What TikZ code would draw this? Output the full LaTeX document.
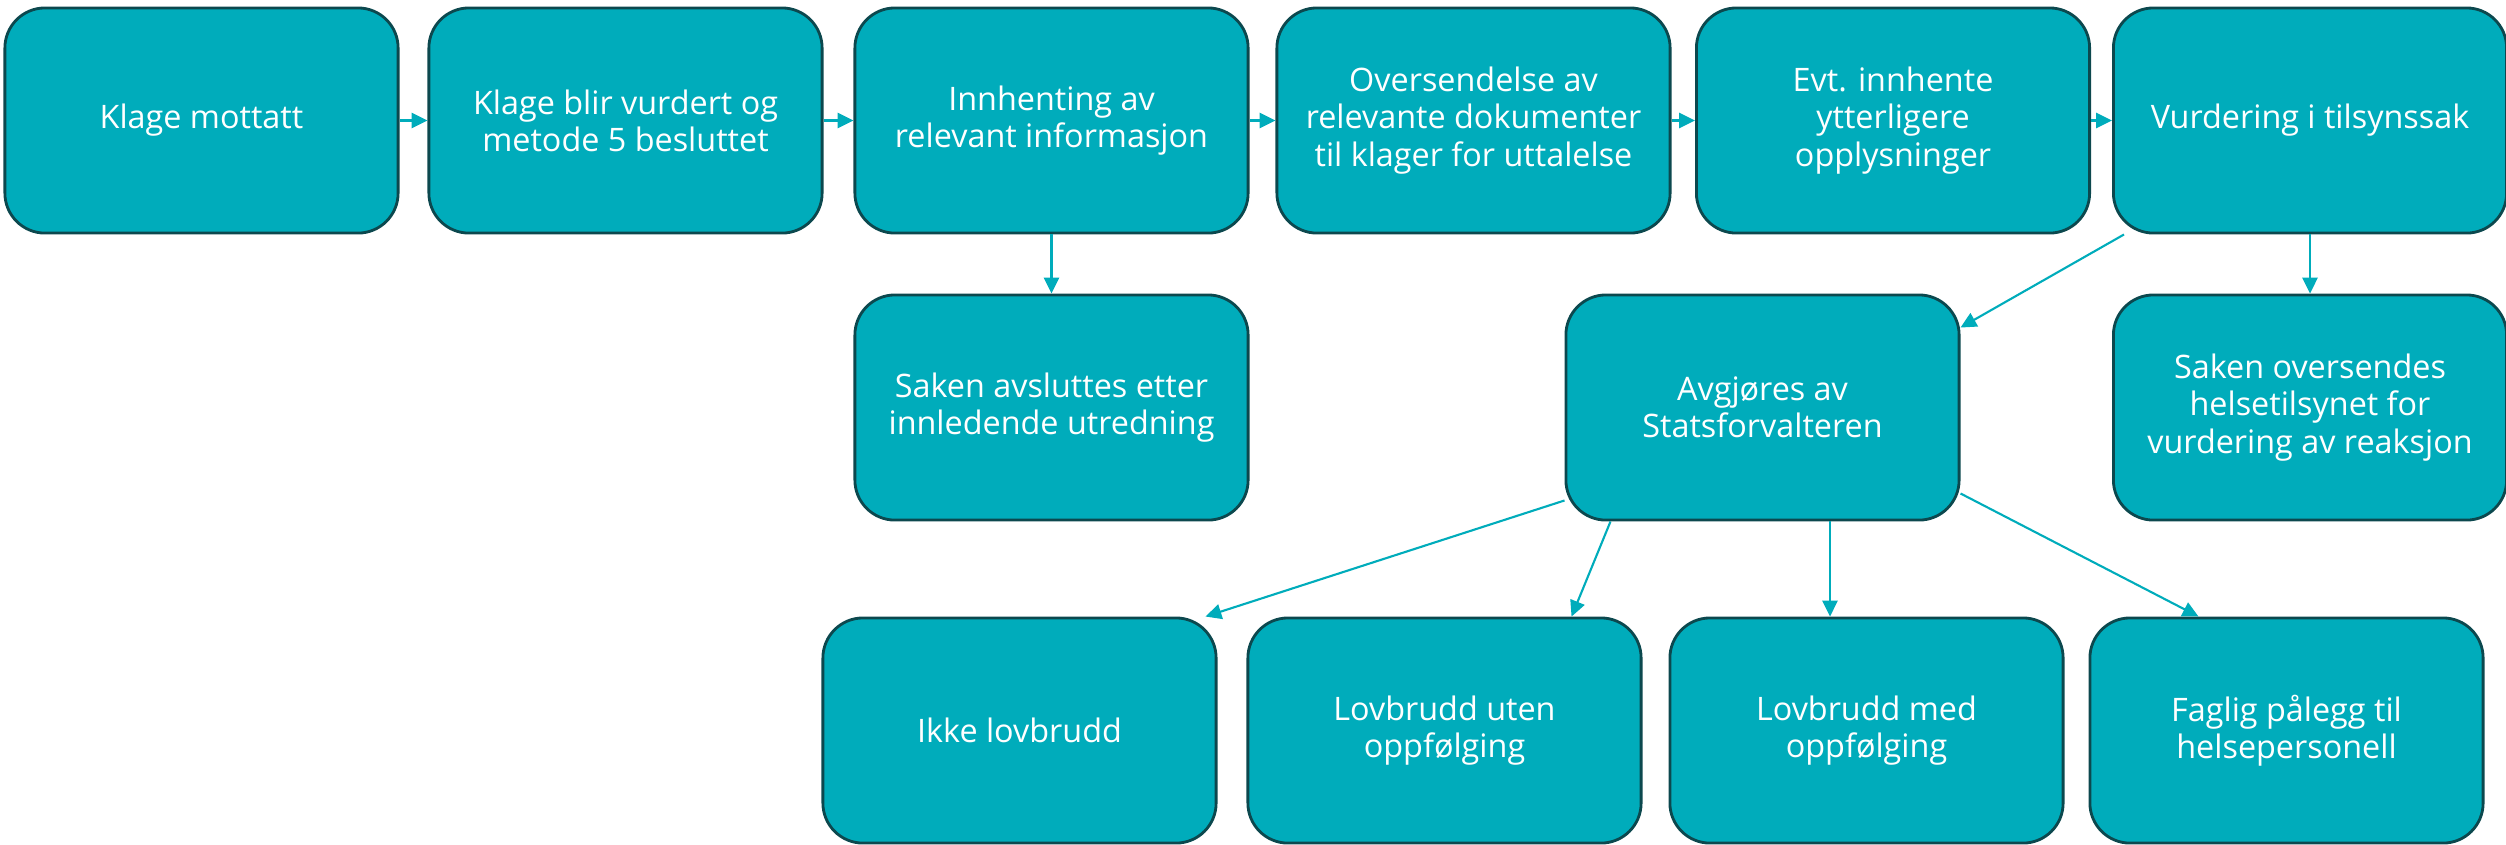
\documentclass[tikz,border=0pt]{standalone}
\usepackage{fontspec}
\setmainfont{Open Sans}
\usetikzlibrary{arrows.meta,calc}
\definecolor{boxfill}{RGB}{0,172,187}
\definecolor{boxline}{RGB}{12,72,78}

\begin{document}
\begin{tikzpicture}[x=0.01cm, y=-0.01cm,
    box/.style={draw=boxline, line width=0.8pt, fill=boxfill, rounded corners=0.4cm,
      minimum width=3.93cm, minimum height=2.25cm, inner sep=0pt,
      text=white, align=center, font=\fontsize{9.2}{10.6}\selectfont},
    arr/.style={draw=boxfill, line width=0.6pt, -{Triangle[length=4.5pt,width=4.3pt]}}]
    \useasboundingbox (0,0) rectangle (2506,844);

    % top row
    \node[box] (mottatt) at (201.5,120.5) {Klage mottatt};
    \node[box] (vurdert) at (625.5,120.5) {Klage blir vurdert og\\metode 5 besluttet};
    \node[box] (innhent) at (1051.5,120.5) {Innhenting av\\relevant informasjon};
    \node[box] (oversend) at (1473.5,120.5) {Oversendelse av\\relevante dokumenter\\til klager for uttalelse};
    \node[box] (evt) at (1893,120.5) {Evt. innhente\\ytterligere\\opplysninger};
    \node[box] (tilsyn) at (2310,120.5) {Vurdering i tilsynssak};

    % middle row
    \node[box] (avsluttes) at (1051.5,407.5) {Saken avsluttes etter\\innledende utredning};
    \node[box] (avgj) at (1762.5,407.5) {Avgjøres av\\Statsforvalteren};
    \node[box] (helse) at (2310,407.5) {Saken oversendes\\helsetilsynet for\\vurdering av reaksjon};

    % bottom row
    \node[box] (ikke) at (1019.5,730.5) {Ikke lovbrudd};
    \node[box] (uten) at (1444.5,730.5) {Lovbrudd uten\\oppfølging};
    \node[box] (med) at (1866.5,730.5) {Lovbrudd med\\oppfølging};
    \node[box] (faglig) at (2286.5,730.5) {Faglig pålegg til\\helsepersonell};

    \draw[arr] (mottatt) -- (vurdert);
    \draw[arr] (vurdert) -- (innhent);
    \draw[arr] (innhent) -- (oversend);
    \draw[arr] (oversend) -- (evt);
    \draw[arr] (evt) -- (tilsyn);

    \draw[arr] (innhent) -- (avsluttes);
    \draw[arr] (tilsyn) -- (helse);
    \draw[arr] ($(tilsyn.south west)+(12,0)$) -- ($(avgj.north east)+(0,34)$);

    \coordinate (medx) at (1830,0);
    \draw[arr] ($(avgj.south west)+(0,-21)$) -- ($(ikke.north east)+(-12,0)$);
    \draw[arr] ($(avgj.south west)+(46,0)$) -- ($(uten.north east)+(-71,0)$);
    \draw[arr] (avgj.south -| medx) -- (med.north -| medx);
    \draw[arr] ($(avgj.south east)+(0,-28)$) -- ($(faglig.north west)+(110,0)$);
\end{tikzpicture}
\end{document}
